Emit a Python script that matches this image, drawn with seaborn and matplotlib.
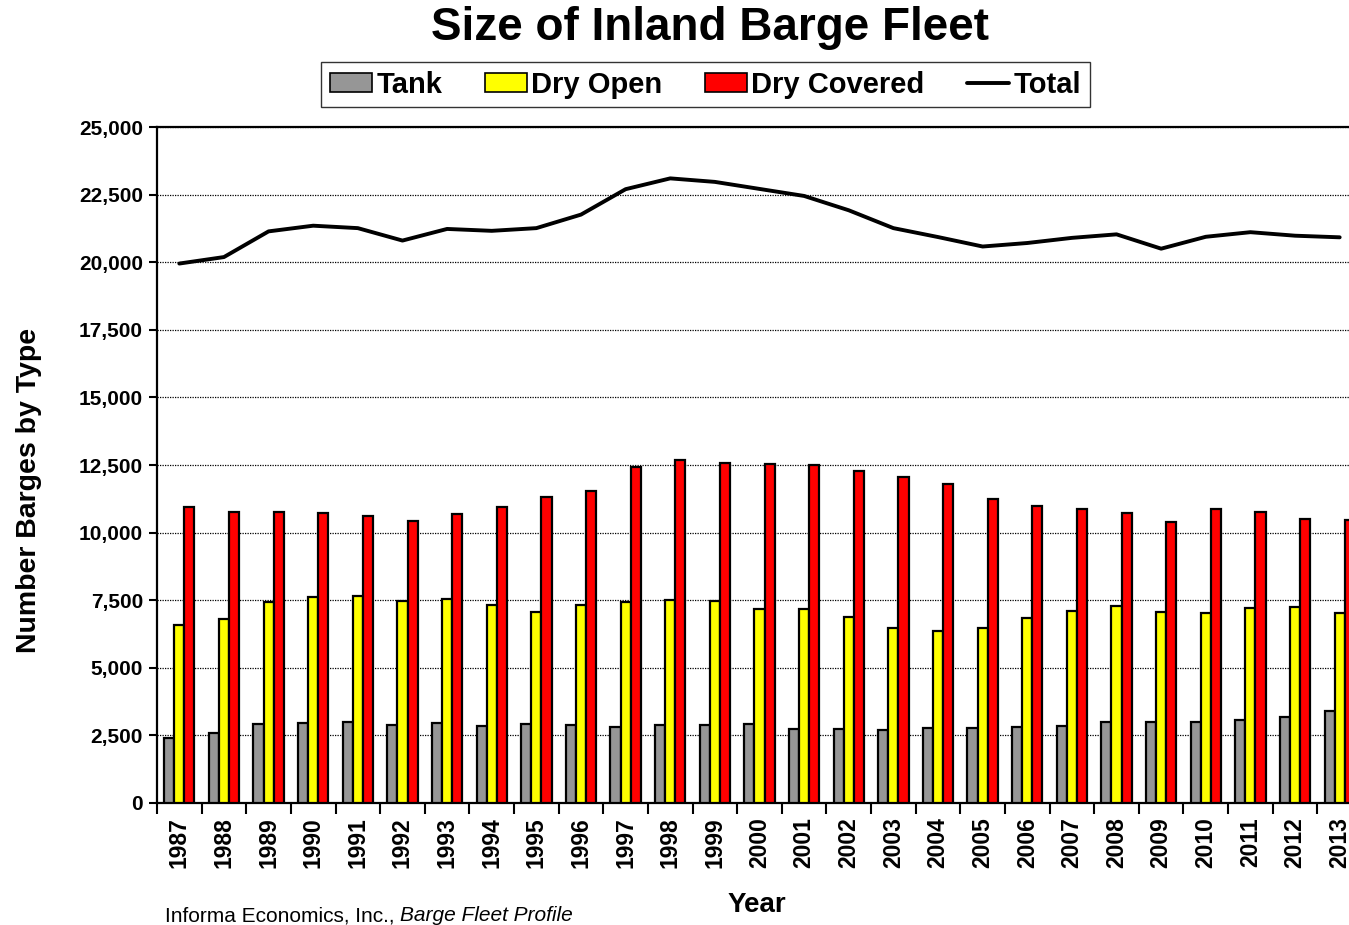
import numpy as np
import pandas as pd
import matplotlib
matplotlib.use("Agg")
import matplotlib.pyplot as plt
from matplotlib.ticker import FuncFormatter, MultipleLocator, FixedLocator
from matplotlib.patches import Patch
from matplotlib.lines import Line2D
import seaborn as sns

years = [str(y) for y in range(1987, 2014)]
tank = [2390, 2600, 2910, 2970, 2980, 2870, 2960, 2860, 2910, 2870, 2810, 2880,
        2880, 2910, 2740, 2750, 2710, 2760, 2770, 2800, 2860, 2980, 2990, 3010,
        3070, 3170, 3390]
dry_open = [6570, 6800, 7440, 7600, 7640, 7480, 7560, 7320, 7050, 7320, 7440, 7490,
            7470, 7170, 7160, 6880, 6480, 6370, 6490, 6850, 7110, 7280, 7070, 7020,
            7220, 7260, 7010]
dry_covered = [10940, 10760, 10770, 10740, 10610, 10440, 10680, 10940, 11300, 11530,
               12410, 12690, 12570, 12540, 12500, 12260, 12050, 11790, 11260, 11000,
               10880, 10710, 10400, 10870, 10760, 10510, 10480]
total = [19950, 20190, 21140, 21350, 21260, 20800, 21230, 21160, 21260, 21760,
         22700, 23100, 22970, 22710, 22450, 21920, 21260, 20930, 20580, 20710,
         20900, 21030, 20500, 20940, 21110, 20980, 20920]
types = ["Tank", "Dry Open", "Dry Covered"]
colors = {"Tank": "#969696", "Dry Open": "#FFFF00", "Dry Covered": "#FF0000"}

df = pd.DataFrame({
    "Year": years * 3,
    "Type": ["Tank"] * len(years) + ["Dry Open"] * len(years) + ["Dry Covered"] * len(years),
    "Barges": tank + dry_open + dry_covered,
})

sns.set_style("white")
plt.rcParams["font.family"] = ["Liberation Sans", "DejaVu Sans"]
for k in ["text.color", "axes.labelcolor", "xtick.color", "ytick.color"]:
    plt.rcParams[k] = "black"

fig = plt.figure(figsize=(13.49, 9.25), dpi=100)
ax = fig.add_axes([157 / 1349, 1 - 803 / 925, (1362 - 157) / 1349, (803 - 127) / 925])

sns.barplot(data=df, x="Year", y="Barges", hue="Type", hue_order=types,
            palette=colors, saturation=1, width=0.68, edgecolor="black",
            linewidth=1.6, ax=ax, legend=False, zorder=3)
sns.lineplot(x=np.arange(len(years)), y=total, color="black", linewidth=2.8,
             ax=ax, zorder=4)

ax.set_xlim(-0.5, len(years) - 0.5)
ax.set_ylim(0, 25000)
ax.yaxis.set_major_locator(MultipleLocator(2500))
ax.yaxis.set_major_formatter(FuncFormatter(lambda v, p: f"{int(v):,}"))
ax.grid(axis="y", color="black", linestyle=(0, (1, 1)), linewidth=0.9, zorder=0)
ax.set_axisbelow(True)

for s in ["left", "top", "bottom", "right"]:
    ax.spines[s].set_visible(True)
    ax.spines[s].set_color("black")
    ax.spines[s].set_linewidth(1.6)

ax.tick_params(axis="y", which="major", direction="out", length=6, width=1.5,
               labelsize=15, left=True, pad=4, colors="black")
ax.tick_params(axis="x", which="major", length=0, labelsize=16.5, rotation=90, pad=10,
               colors="black")
ax.xaxis.set_minor_locator(FixedLocator(np.arange(-0.5, len(years), 1.0)))
ax.tick_params(axis="x", which="minor", direction="out", length=8, width=1.5, bottom=True,
               colors="black")
for lbl in ax.get_xticklabels() + ax.get_yticklabels():
    lbl.set_fontweight("bold")

ax.set_xlabel("Year", fontsize=20, fontweight="bold", color="black")
ax.xaxis.set_label_coords((757 - 157) / 1205, (803 - 892) / 676)
ax.set_ylabel("Number Barges by Type", fontsize=20.5, fontweight="bold", color="black")
ax.yaxis.set_label_coords((42 - 157) / 1205, (803 - 490) / 676)

fig.text(0.526, 0.97, "Size of Inland Barge Fleet", ha="center", va="center",
         fontsize=33, fontweight="bold", color="black")

handles = [Patch(facecolor=colors[t], edgecolor="black", linewidth=1.2) for t in types]
handles.append(Line2D([0], [0], color="black", linewidth=2.8))
leg = fig.legend(handles, types + ["Total"], loc="center",
                 bbox_to_anchor=(0.523, 0.9086), ncol=4, frameon=True,
                 fancybox=False, edgecolor="black", handlelength=1.45,
                 handleheight=0.6, handletextpad=0.15, columnspacing=1.45,
                 borderpad=0.3, prop={"weight": "bold", "size": 21})
leg.get_frame().set_linewidth(1.0)
for t in leg.get_texts():
    t.set_color("black")

t1 = fig.text(165 / 1349, 0.0, "Informa Economics, Inc., ", fontsize=15,
              ha="left", va="bottom", color="black")
ax.annotate("Barge Fleet Profile", xy=(1, 0), xycoords=t1, fontsize=15,
            style="italic", ha="left", va="bottom", annotation_clip=False,
            color="black")

fig.savefig("out.png", dpi=100)
